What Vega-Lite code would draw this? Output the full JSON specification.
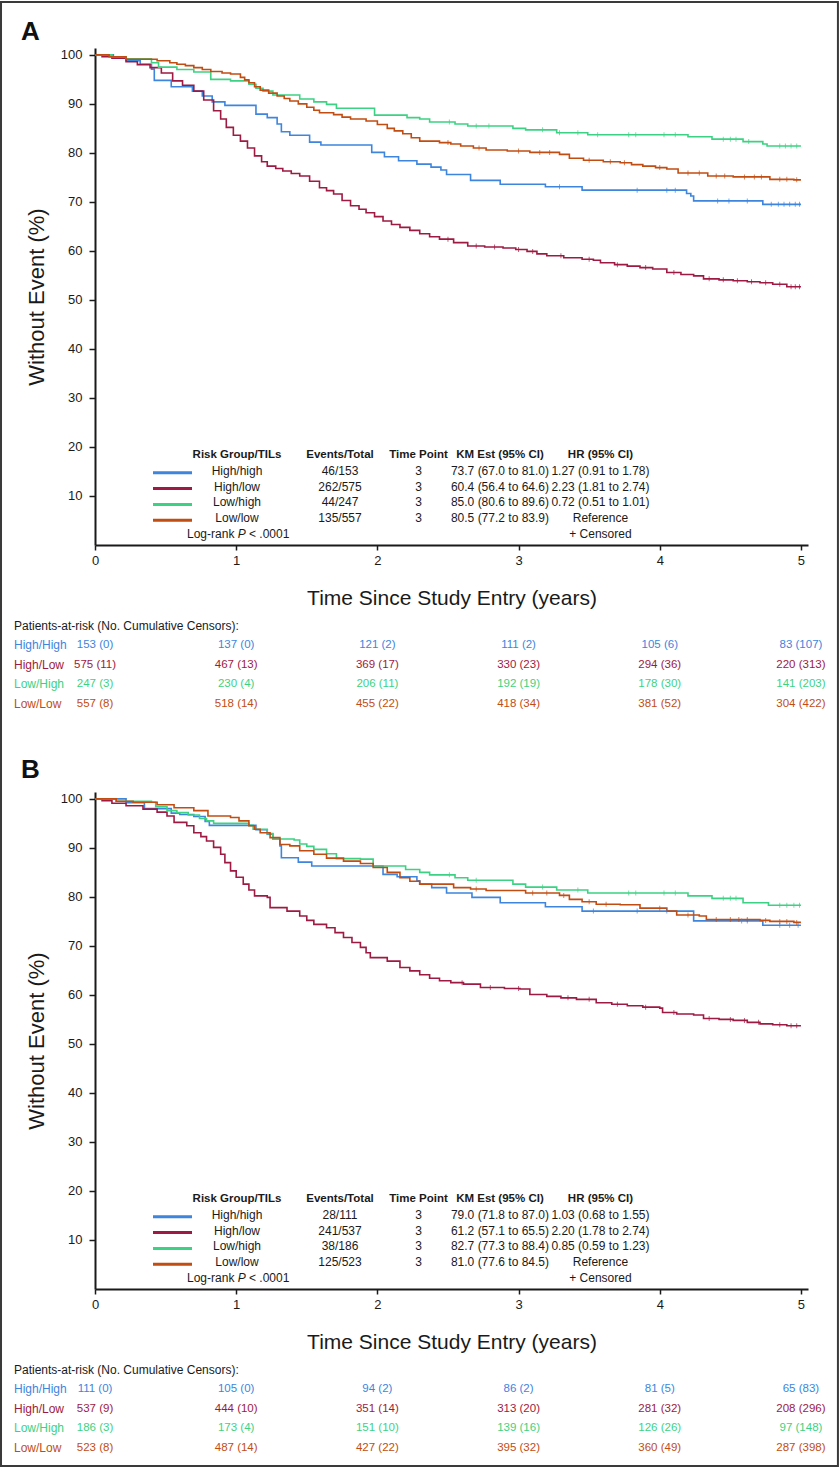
{
"$schema":"https://vega.github.io/schema/vega-lite/v6.json",
"padding":0,
"background":"white",
"bounds":"flush",
"spacing":0,
"config":{"view":{"stroke":null}},
"datasets":{
"kmA":[
{"group":"High/high","time":0,"surv":100},{"group":"High/high","time":0.13,"surv":99.5},{"group":"High/high","time":0.22,"surv":98.8},{"group":"High/high","time":0.32,"surv":98.1},{"group":"High/high","time":0.4,"surv":97.1},{"group":"High/high","time":0.42,"surv":94.8},{"group":"High/high","time":0.54,"surv":93.5},{"group":"High/high","time":0.69,"surv":92.6},{"group":"High/high","time":0.76,"surv":91.6},{"group":"High/high","time":0.83,"surv":90.4},{"group":"High/high","time":0.92,"surv":89.7},{"group":"High/high","time":1.14,"surv":87.9},{"group":"High/high","time":1.22,"surv":87.2},{"group":"High/high","time":1.29,"surv":85.9},{"group":"High/high","time":1.32,"surv":84.3},{"group":"High/high","time":1.38,"surv":83.6},{"group":"High/high","time":1.52,"surv":82.2},{"group":"High/high","time":1.6,"surv":81.6},{"group":"High/high","time":1.96,"surv":80.1},{"group":"High/high","time":2.05,"surv":79.2},{"group":"High/high","time":2.15,"surv":78.4},{"group":"High/high","time":2.28,"surv":77.7},{"group":"High/high","time":2.38,"surv":77.1},{"group":"High/high","time":2.45,"surv":76.5},{"group":"High/high","time":2.49,"surv":75.6},{"group":"High/high","time":2.66,"surv":74.4},{"group":"High/high","time":2.87,"surv":73.6},{"group":"High/high","time":3.19,"surv":73.1},{"group":"High/high","time":3.45,"surv":72.4},{"group":"High/high","time":4.19,"surv":71.7},{"group":"High/high","time":4.22,"surv":71.2},{"group":"High/high","time":4.24,"surv":70.2},{"group":"High/high","time":4.73,"surv":69.5},{"group":"High/high","time":5.0,"surv":69.5},
{"group":"High/low","time":0,"surv":100},{"group":"High/low","time":0.05,"surv":99.6},{"group":"High/low","time":0.12,"surv":99.3},{"group":"High/low","time":0.22,"surv":98.6},{"group":"High/low","time":0.3,"surv":98.0},{"group":"High/low","time":0.39,"surv":97.4},{"group":"High/low","time":0.47,"surv":96.3},{"group":"High/low","time":0.55,"surv":94.7},{"group":"High/low","time":0.62,"surv":93.8},{"group":"High/low","time":0.7,"surv":92.6},{"group":"High/low","time":0.77,"surv":90.8},{"group":"High/low","time":0.84,"surv":88.6},{"group":"High/low","time":0.89,"surv":86.9},{"group":"High/low","time":0.93,"surv":85.2},{"group":"High/low","time":0.98,"surv":83.6},{"group":"High/low","time":1.03,"surv":82.4},{"group":"High/low","time":1.08,"surv":81.0},{"group":"High/low","time":1.13,"surv":79.4},{"group":"High/low","time":1.18,"surv":78.2},{"group":"High/low","time":1.22,"surv":77.3},{"group":"High/low","time":1.28,"surv":76.8},{"group":"High/low","time":1.33,"surv":76.3},{"group":"High/low","time":1.39,"surv":75.8},{"group":"High/low","time":1.45,"surv":75.3},{"group":"High/low","time":1.52,"surv":74.2},{"group":"High/low","time":1.59,"surv":72.9},{"group":"High/low","time":1.64,"surv":72.3},{"group":"High/low","time":1.69,"surv":71.6},{"group":"High/low","time":1.75,"surv":70.3},{"group":"High/low","time":1.81,"surv":69.2},{"group":"High/low","time":1.87,"surv":68.5},{"group":"High/low","time":1.92,"surv":67.8},{"group":"High/low","time":1.98,"surv":67.0},{"group":"High/low","time":2.04,"surv":66.1},{"group":"High/low","time":2.1,"surv":65.4},{"group":"High/low","time":2.16,"surv":64.8},{"group":"High/low","time":2.23,"surv":64.2},{"group":"High/low","time":2.3,"surv":63.5},{"group":"High/low","time":2.37,"surv":62.9},{"group":"High/low","time":2.44,"surv":62.4},{"group":"High/low","time":2.54,"surv":61.7},{"group":"High/low","time":2.64,"surv":61.0},{"group":"High/low","time":2.76,"surv":60.8},{"group":"High/low","time":2.89,"surv":60.6},{"group":"High/low","time":2.98,"surv":60.3},{"group":"High/low","time":3.06,"surv":59.9},{"group":"High/low","time":3.13,"surv":59.4},{"group":"High/low","time":3.2,"surv":59.0},{"group":"High/low","time":3.32,"surv":58.6},{"group":"High/low","time":3.45,"surv":58.3},{"group":"High/low","time":3.53,"surv":58.1},{"group":"High/low","time":3.58,"surv":57.6},{"group":"High/low","time":3.68,"surv":57.2},{"group":"High/low","time":3.77,"surv":56.9},{"group":"High/low","time":3.86,"surv":56.6},{"group":"High/low","time":3.95,"surv":56.3},{"group":"High/low","time":4.05,"surv":55.6},{"group":"High/low","time":4.15,"surv":55.2},{"group":"High/low","time":4.24,"surv":54.9},{"group":"High/low","time":4.31,"surv":54.3},{"group":"High/low","time":4.42,"surv":54.1},{"group":"High/low","time":4.52,"surv":53.9},{"group":"High/low","time":4.62,"surv":53.7},{"group":"High/low","time":4.71,"surv":53.5},{"group":"High/low","time":4.8,"surv":53.2},{"group":"High/low","time":4.9,"surv":52.7},{"group":"High/low","time":5.0,"surv":52.7},
{"group":"Low/high","time":0,"surv":100},{"group":"Low/high","time":0.12,"surv":99.6},{"group":"Low/high","time":0.22,"surv":99.2},{"group":"Low/high","time":0.4,"surv":98.4},{"group":"Low/high","time":0.45,"surv":97.5},{"group":"Low/high","time":0.58,"surv":97.0},{"group":"Low/high","time":0.7,"surv":96.5},{"group":"Low/high","time":0.82,"surv":95.0},{"group":"Low/high","time":0.96,"surv":94.7},{"group":"Low/high","time":1.09,"surv":94.0},{"group":"Low/high","time":1.14,"surv":93.2},{"group":"Low/high","time":1.19,"surv":92.6},{"group":"Low/high","time":1.26,"surv":91.8},{"group":"Low/high","time":1.45,"surv":91.0},{"group":"Low/high","time":1.55,"surv":90.4},{"group":"Low/high","time":1.64,"surv":89.9},{"group":"Low/high","time":1.71,"surv":89.1},{"group":"Low/high","time":1.98,"surv":87.7},{"group":"Low/high","time":2.21,"surv":87.2},{"group":"Low/high","time":2.3,"surv":86.9},{"group":"Low/high","time":2.37,"surv":86.3},{"group":"Low/high","time":2.55,"surv":85.9},{"group":"Low/high","time":2.64,"surv":85.5},{"group":"Low/high","time":2.96,"surv":85.0},{"group":"Low/high","time":3.05,"surv":84.7},{"group":"Low/high","time":3.27,"surv":84.1},{"group":"Low/high","time":3.49,"surv":83.7},{"group":"Low/high","time":4.2,"surv":83.3},{"group":"Low/high","time":4.37,"surv":82.8},{"group":"Low/high","time":4.59,"surv":82.3},{"group":"Low/high","time":4.73,"surv":81.8},{"group":"Low/high","time":4.76,"surv":81.4},{"group":"Low/high","time":5.0,"surv":81.4},
{"group":"Low/low","time":0,"surv":100},{"group":"Low/low","time":0.1,"surv":99.6},{"group":"Low/low","time":0.22,"surv":99.1},{"group":"Low/low","time":0.44,"surv":98.8},{"group":"Low/low","time":0.53,"surv":98.4},{"group":"Low/low","time":0.58,"surv":98.1},{"group":"Low/low","time":0.64,"surv":97.8},{"group":"Low/low","time":0.7,"surv":97.4},{"group":"Low/low","time":0.76,"surv":97.0},{"group":"Low/low","time":0.82,"surv":96.6},{"group":"Low/low","time":0.9,"surv":96.3},{"group":"Low/low","time":0.96,"surv":96.1},{"group":"Low/low","time":1.03,"surv":95.4},{"group":"Low/low","time":1.06,"surv":94.9},{"group":"Low/low","time":1.09,"surv":94.3},{"group":"Low/low","time":1.13,"surv":93.5},{"group":"Low/low","time":1.17,"surv":92.8},{"group":"Low/low","time":1.23,"surv":92.2},{"group":"Low/low","time":1.29,"surv":91.6},{"group":"Low/low","time":1.34,"surv":91.1},{"group":"Low/low","time":1.38,"surv":90.6},{"group":"Low/low","time":1.44,"surv":90.0},{"group":"Low/low","time":1.5,"surv":89.3},{"group":"Low/low","time":1.55,"surv":88.7},{"group":"Low/low","time":1.59,"surv":88.2},{"group":"Low/low","time":1.69,"surv":87.8},{"group":"Low/low","time":1.75,"surv":87.3},{"group":"Low/low","time":1.81,"surv":86.9},{"group":"Low/low","time":1.92,"surv":86.5},{"group":"Low/low","time":2.0,"surv":85.8},{"group":"Low/low","time":2.07,"surv":85.0},{"group":"Low/low","time":2.12,"surv":84.5},{"group":"Low/low","time":2.18,"surv":83.9},{"group":"Low/low","time":2.24,"surv":83.1},{"group":"Low/low","time":2.3,"surv":82.4},{"group":"Low/low","time":2.44,"surv":82.1},{"group":"Low/low","time":2.52,"surv":81.8},{"group":"Low/low","time":2.59,"surv":81.4},{"group":"Low/low","time":2.68,"surv":81.0},{"group":"Low/low","time":2.77,"surv":80.6},{"group":"Low/low","time":2.92,"surv":80.4},{"group":"Low/low","time":3.08,"surv":80.1},{"group":"Low/low","time":3.29,"surv":79.7},{"group":"Low/low","time":3.36,"surv":78.9},{"group":"Low/low","time":3.46,"surv":78.5},{"group":"Low/low","time":3.6,"surv":78.2},{"group":"Low/low","time":3.72,"surv":78.0},{"group":"Low/low","time":3.8,"surv":77.6},{"group":"Low/low","time":3.88,"surv":77.3},{"group":"Low/low","time":3.97,"surv":77.0},{"group":"Low/low","time":4.05,"surv":76.7},{"group":"Low/low","time":4.13,"surv":75.9},{"group":"Low/low","time":4.34,"surv":75.3},{"group":"Low/low","time":4.52,"surv":75.1},{"group":"Low/low","time":4.78,"surv":74.6},{"group":"Low/low","time":4.95,"surv":74.5},{"group":"Low/low","time":5.0,"surv":74.5}
],
"censA":[
{"group":"High/high","time":3.29,"surv":73.1},{"group":"High/high","time":3.84,"surv":72.4},{"group":"High/high","time":4.05,"surv":72.4},{"group":"High/high","time":4.11,"surv":72.4},{"group":"High/high","time":4.41,"surv":70.2},{"group":"High/high","time":4.49,"surv":70.2},{"group":"High/high","time":4.62,"surv":70.2},{"group":"High/high","time":4.79,"surv":69.5},{"group":"High/high","time":4.84,"surv":69.5},{"group":"High/high","time":4.88,"surv":69.5},{"group":"High/high","time":4.92,"surv":69.5},{"group":"High/high","time":4.96,"surv":69.5},{"group":"High/high","time":4.99,"surv":69.5},
{"group":"High/low","time":2.5,"surv":62.4},{"group":"High/low","time":2.7,"surv":61.0},{"group":"High/low","time":2.83,"surv":60.8},{"group":"High/low","time":3.0,"surv":60.3},{"group":"High/low","time":3.1,"surv":59.9},{"group":"High/low","time":3.3,"surv":59.0},{"group":"High/low","time":3.5,"surv":58.3},{"group":"High/low","time":3.7,"surv":57.2},{"group":"High/low","time":3.9,"surv":56.6},{"group":"High/low","time":4.1,"surv":55.6},{"group":"High/low","time":4.35,"surv":54.3},{"group":"High/low","time":4.45,"surv":54.1},{"group":"High/low","time":4.55,"surv":53.9},{"group":"High/low","time":4.65,"surv":53.7},{"group":"High/low","time":4.75,"surv":53.5},{"group":"High/low","time":4.85,"surv":53.2},{"group":"High/low","time":4.93,"surv":52.7},{"group":"High/low","time":4.96,"surv":52.7},{"group":"High/low","time":4.99,"surv":52.7},
{"group":"Low/high","time":2.51,"surv":86.3},{"group":"Low/high","time":2.7,"surv":85.5},{"group":"Low/high","time":2.79,"surv":85.5},{"group":"Low/high","time":3.17,"surv":84.7},{"group":"Low/high","time":3.29,"surv":84.1},{"group":"Low/high","time":3.42,"surv":84.1},{"group":"Low/high","time":3.56,"surv":83.7},{"group":"Low/high","time":3.78,"surv":83.7},{"group":"Low/high","time":3.83,"surv":83.7},{"group":"Low/high","time":4.03,"surv":83.7},{"group":"Low/high","time":4.11,"surv":83.7},{"group":"Low/high","time":4.45,"surv":82.8},{"group":"Low/high","time":4.5,"surv":82.8},{"group":"Low/high","time":4.54,"surv":82.8},{"group":"Low/high","time":4.63,"surv":82.3},{"group":"Low/high","time":4.85,"surv":81.4},{"group":"Low/high","time":4.89,"surv":81.4},{"group":"Low/high","time":4.93,"surv":81.4},{"group":"Low/high","time":4.97,"surv":81.4},
{"group":"Low/low","time":2.5,"surv":82.1},{"group":"Low/low","time":2.72,"surv":81.0},{"group":"Low/low","time":3.0,"surv":80.4},{"group":"Low/low","time":3.15,"surv":80.1},{"group":"Low/low","time":3.22,"surv":80.1},{"group":"Low/low","time":3.5,"surv":78.5},{"group":"Low/low","time":3.65,"surv":78.2},{"group":"Low/low","time":3.75,"surv":78.0},{"group":"Low/low","time":4.0,"surv":77.0},{"group":"Low/low","time":4.2,"surv":75.9},{"group":"Low/low","time":4.28,"surv":75.9},{"group":"Low/low","time":4.4,"surv":75.3},{"group":"Low/low","time":4.46,"surv":75.3},{"group":"Low/low","time":4.6,"surv":75.1},{"group":"Low/low","time":4.67,"surv":75.1},{"group":"Low/low","time":4.72,"surv":75.1},{"group":"Low/low","time":4.85,"surv":74.6},{"group":"Low/low","time":4.9,"surv":74.6},{"group":"Low/low","time":4.97,"surv":74.5}
],
"kmB":[
{"group":"High/high","time":0,"surv":100},{"group":"High/high","time":0.22,"surv":99.2},{"group":"High/high","time":0.35,"surv":98.0},{"group":"High/high","time":0.54,"surv":97.1},{"group":"High/high","time":0.6,"surv":96.8},{"group":"High/high","time":0.7,"surv":96.4},{"group":"High/high","time":0.78,"surv":95.4},{"group":"High/high","time":0.81,"surv":94.6},{"group":"High/high","time":1.14,"surv":93.7},{"group":"High/high","time":1.22,"surv":92.8},{"group":"High/high","time":1.26,"surv":91.8},{"group":"High/high","time":1.31,"surv":90.4},{"group":"High/high","time":1.32,"surv":88.0},{"group":"High/high","time":1.44,"surv":87.1},{"group":"High/high","time":1.535,"surv":86.3},{"group":"High/high","time":2.04,"surv":84.6},{"group":"High/high","time":2.14,"surv":84.1},{"group":"High/high","time":2.28,"surv":83.3},{"group":"High/high","time":2.3,"surv":82.6},{"group":"High/high","time":2.385,"surv":81.9},{"group":"High/high","time":2.49,"surv":80.8},{"group":"High/high","time":2.67,"surv":79.9},{"group":"High/high","time":2.87,"surv":78.8},{"group":"High/high","time":3.19,"surv":78.0},{"group":"High/high","time":3.45,"surv":77.1},{"group":"High/high","time":4.24,"surv":75.1},{"group":"High/high","time":4.73,"surv":74.2},{"group":"High/high","time":5.0,"surv":74.2},
{"group":"High/low","time":0,"surv":100},{"group":"High/low","time":0.05,"surv":99.6},{"group":"High/low","time":0.12,"surv":99.1},{"group":"High/low","time":0.22,"surv":98.6},{"group":"High/low","time":0.34,"surv":97.9},{"group":"High/low","time":0.44,"surv":97.3},{"group":"High/low","time":0.51,"surv":96.5},{"group":"High/low","time":0.56,"surv":95.2},{"group":"High/low","time":0.65,"surv":94.5},{"group":"High/low","time":0.7,"surv":93.1},{"group":"High/low","time":0.75,"surv":92.3},{"group":"High/low","time":0.79,"surv":91.4},{"group":"High/low","time":0.84,"surv":90.1},{"group":"High/low","time":0.89,"surv":88.7},{"group":"High/low","time":0.92,"surv":87.0},{"group":"High/low","time":0.96,"surv":85.3},{"group":"High/low","time":1.0,"surv":84.0},{"group":"High/low","time":1.05,"surv":82.6},{"group":"High/low","time":1.09,"surv":81.4},{"group":"High/low","time":1.13,"surv":80.2},{"group":"High/low","time":1.22,"surv":79.9},{"group":"High/low","time":1.24,"surv":77.8},{"group":"High/low","time":1.36,"surv":77.1},{"group":"High/low","time":1.45,"surv":76.1},{"group":"High/low","time":1.5,"surv":75.2},{"group":"High/low","time":1.55,"surv":74.4},{"group":"High/low","time":1.64,"surv":73.7},{"group":"High/low","time":1.7,"surv":72.7},{"group":"High/low","time":1.76,"surv":71.7},{"group":"High/low","time":1.82,"surv":70.7},{"group":"High/low","time":1.88,"surv":69.7},{"group":"High/low","time":1.92,"surv":68.6},{"group":"High/low","time":1.95,"surv":67.6},{"group":"High/low","time":2.07,"surv":66.9},{"group":"High/low","time":2.16,"surv":65.6},{"group":"High/low","time":2.23,"surv":64.9},{"group":"High/low","time":2.3,"surv":64.1},{"group":"High/low","time":2.37,"surv":63.4},{"group":"High/low","time":2.44,"surv":62.9},{"group":"High/low","time":2.52,"surv":62.5},{"group":"High/low","time":2.61,"surv":62.2},{"group":"High/low","time":2.73,"surv":61.5},{"group":"High/low","time":2.9,"surv":61.3},{"group":"High/low","time":3.01,"surv":61.2},{"group":"High/low","time":3.08,"surv":60.1},{"group":"High/low","time":3.2,"surv":59.7},{"group":"High/low","time":3.3,"surv":59.4},{"group":"High/low","time":3.41,"surv":59.1},{"group":"High/low","time":3.55,"surv":58.4},{"group":"High/low","time":3.66,"surv":58.1},{"group":"High/low","time":3.77,"surv":57.8},{"group":"High/low","time":3.88,"surv":57.5},{"group":"High/low","time":4.0,"surv":57.3},{"group":"High/low","time":4.02,"surv":56.4},{"group":"High/low","time":4.12,"surv":56.1},{"group":"High/low","time":4.24,"surv":55.9},{"group":"High/low","time":4.31,"surv":55.2},{"group":"High/low","time":4.42,"surv":55.0},{"group":"High/low","time":4.52,"surv":54.8},{"group":"High/low","time":4.62,"surv":54.4},{"group":"High/low","time":4.71,"surv":54.1},{"group":"High/low","time":4.8,"surv":53.9},{"group":"High/low","time":4.9,"surv":53.7},{"group":"High/low","time":5.0,"surv":53.7},
{"group":"Low/high","time":0,"surv":100},{"group":"Low/high","time":0.15,"surv":99.5},{"group":"Low/high","time":0.4,"surv":99.3},{"group":"Low/high","time":0.43,"surv":98.4},{"group":"Low/high","time":0.51,"surv":97.6},{"group":"Low/high","time":0.58,"surv":97.2},{"group":"Low/high","time":0.66,"surv":96.7},{"group":"Low/high","time":0.74,"surv":96.0},{"group":"Low/high","time":0.79,"surv":95.5},{"group":"Low/high","time":0.84,"surv":95.0},{"group":"Low/high","time":1.09,"surv":94.6},{"group":"Low/high","time":1.12,"surv":93.8},{"group":"Low/high","time":1.22,"surv":92.9},{"group":"Low/high","time":1.26,"surv":91.8},{"group":"Low/high","time":1.41,"surv":91.6},{"group":"Low/high","time":1.45,"surv":90.8},{"group":"Low/high","time":1.5,"surv":90.3},{"group":"Low/high","time":1.55,"surv":89.7},{"group":"Low/high","time":1.64,"surv":88.8},{"group":"Low/high","time":1.71,"surv":87.8},{"group":"Low/high","time":1.88,"surv":87.7},{"group":"Low/high","time":1.97,"surv":86.3},{"group":"Low/high","time":2.2,"surv":85.6},{"group":"Low/high","time":2.3,"surv":85.0},{"group":"Low/high","time":2.37,"surv":84.5},{"group":"Low/high","time":2.55,"surv":83.9},{"group":"Low/high","time":2.64,"surv":83.4},{"group":"Low/high","time":2.96,"surv":82.6},{"group":"Low/high","time":3.05,"surv":82.0},{"group":"Low/high","time":3.27,"surv":81.4},{"group":"Low/high","time":3.49,"surv":80.8},{"group":"Low/high","time":4.2,"surv":80.2},{"group":"Low/high","time":4.37,"surv":79.7},{"group":"Low/high","time":4.59,"surv":78.8},{"group":"Low/high","time":4.77,"surv":78.3},{"group":"Low/high","time":5.0,"surv":78.3},
{"group":"Low/low","time":0,"surv":100},{"group":"Low/low","time":0.15,"surv":99.5},{"group":"Low/low","time":0.27,"surv":99.3},{"group":"Low/low","time":0.44,"surv":98.8},{"group":"Low/low","time":0.56,"surv":98.2},{"group":"Low/low","time":0.7,"surv":97.6},{"group":"Low/low","time":0.8,"surv":96.5},{"group":"Low/low","time":0.96,"surv":96.2},{"group":"Low/low","time":1.02,"surv":95.5},{"group":"Low/low","time":1.09,"surv":94.5},{"group":"Low/low","time":1.13,"surv":93.8},{"group":"Low/low","time":1.17,"surv":93.1},{"group":"Low/low","time":1.24,"surv":92.1},{"group":"Low/low","time":1.31,"surv":90.7},{"group":"Low/low","time":1.38,"surv":90.4},{"group":"Low/low","time":1.45,"surv":89.4},{"group":"Low/low","time":1.55,"surv":88.7},{"group":"Low/low","time":1.64,"surv":87.9},{"group":"Low/low","time":1.76,"surv":87.3},{"group":"Low/low","time":1.88,"surv":86.8},{"group":"Low/low","time":1.97,"surv":86.0},{"group":"Low/low","time":2.07,"surv":85.0},{"group":"Low/low","time":2.16,"surv":83.9},{"group":"Low/low","time":2.23,"surv":83.2},{"group":"Low/low","time":2.3,"surv":82.6},{"group":"Low/low","time":2.54,"surv":81.9},{"group":"Low/low","time":2.66,"surv":81.6},{"group":"Low/low","time":2.77,"surv":81.3},{"group":"Low/low","time":3.05,"surv":80.8},{"group":"Low/low","time":3.29,"surv":80.3},{"group":"Low/low","time":3.36,"surv":79.5},{"group":"Low/low","time":3.45,"surv":79.0},{"group":"Low/low","time":3.55,"surv":78.5},{"group":"Low/low","time":3.72,"surv":78.4},{"group":"Low/low","time":3.86,"surv":77.7},{"group":"Low/low","time":4.05,"surv":77.1},{"group":"Low/low","time":4.12,"surv":76.3},{"group":"Low/low","time":4.28,"surv":76.1},{"group":"Low/low","time":4.33,"surv":75.4},{"group":"Low/low","time":4.71,"surv":75.2},{"group":"Low/low","time":4.78,"surv":75.0},{"group":"Low/low","time":4.95,"surv":74.8},{"group":"Low/low","time":5.0,"surv":74.8}
],
"censB":[
{"group":"High/high","time":3.53,"surv":77.1},{"group":"High/high","time":3.84,"surv":77.1},{"group":"High/high","time":4.05,"surv":77.1},{"group":"High/high","time":4.58,"surv":75.1},{"group":"High/high","time":4.62,"surv":75.1},{"group":"High/high","time":4.85,"surv":74.2},{"group":"High/high","time":4.92,"surv":74.2},{"group":"High/high","time":4.98,"surv":74.2},
{"group":"High/low","time":2.6,"surv":62.5},{"group":"High/low","time":2.8,"surv":61.5},{"group":"High/low","time":3.0,"surv":61.3},{"group":"High/low","time":3.35,"surv":59.4},{"group":"High/low","time":3.5,"surv":59.1},{"group":"High/low","time":3.7,"surv":58.1},{"group":"High/low","time":3.9,"surv":57.5},{"group":"High/low","time":4.1,"surv":56.4},{"group":"High/low","time":4.35,"surv":55.2},{"group":"High/low","time":4.5,"surv":55.0},{"group":"High/low","time":4.6,"surv":54.8},{"group":"High/low","time":4.7,"surv":54.4},{"group":"High/low","time":4.85,"surv":53.9},{"group":"High/low","time":4.93,"surv":53.7},{"group":"High/low","time":4.97,"surv":53.7},
{"group":"Low/high","time":2.51,"surv":84.5},{"group":"Low/high","time":2.7,"surv":83.4},{"group":"Low/high","time":3.17,"surv":82.0},{"group":"Low/high","time":3.42,"surv":81.4},{"group":"Low/high","time":3.78,"surv":80.8},{"group":"Low/high","time":3.83,"surv":80.8},{"group":"Low/high","time":4.03,"surv":80.8},{"group":"Low/high","time":4.11,"surv":80.8},{"group":"Low/high","time":4.45,"surv":79.7},{"group":"Low/high","time":4.5,"surv":79.7},{"group":"Low/high","time":4.54,"surv":79.7},{"group":"Low/high","time":4.85,"surv":78.3},{"group":"Low/high","time":4.9,"surv":78.3},{"group":"Low/high","time":4.95,"surv":78.3},{"group":"Low/high","time":4.99,"surv":78.3},
{"group":"Low/low","time":2.7,"surv":81.6},{"group":"Low/low","time":3.1,"surv":80.8},{"group":"Low/low","time":3.2,"surv":80.8},{"group":"Low/low","time":3.32,"surv":80.3},{"group":"Low/low","time":3.5,"surv":79.0},{"group":"Low/low","time":3.62,"surv":78.5},{"group":"Low/low","time":4.0,"surv":77.7},{"group":"Low/low","time":4.2,"surv":76.3},{"group":"Low/low","time":4.4,"surv":75.4},{"group":"Low/low","time":4.5,"surv":75.4},{"group":"Low/low","time":4.56,"surv":75.4},{"group":"Low/low","time":4.62,"surv":75.4},{"group":"Low/low","time":4.75,"surv":75.2},{"group":"Low/low","time":4.85,"surv":75.0},{"group":"Low/low","time":4.9,"surv":75.0},{"group":"Low/low","time":4.97,"surv":74.8}
],
"legA":[
{"row":"header","group":"Risk Group/TILs","events":"Events/Total","timepoint":"Time Point","km":"KM Est (95% CI)","hr":"HR (95% CI)"},
{"row":"High/high","group":"High/high","events":"46/153","timepoint":"3","km":"73.7 (67.0 to 81.0)","hr":"1.27 (0.91 to 1.78)"},
{"row":"High/low","group":"High/low","events":"262/575","timepoint":"3","km":"60.4 (56.4 to 64.6)","hr":"2.23 (1.81 to 2.74)"},
{"row":"Low/high","group":"Low/high","events":"44/247","timepoint":"3","km":"85.0 (80.6 to 89.6)","hr":"0.72 (0.51 to 1.01)"},
{"row":"Low/low","group":"Low/low","events":"135/557","timepoint":"3","km":"80.5 (77.2 to 83.9)","hr":"Reference"},
{"row":"logrank","group":"Log-rank","p":"P","pval":"< .0001","events":"","timepoint":"","km":"","hr":"+ Censored"}
],
"legB":[
{"row":"header","group":"Risk Group/TILs","events":"Events/Total","timepoint":"Time Point","km":"KM Est (95% CI)","hr":"HR (95% CI)"},
{"row":"High/high","group":"High/high","events":"28/111","timepoint":"3","km":"79.0 (71.8 to 87.0)","hr":"1.03 (0.68 to 1.55)"},
{"row":"High/low","group":"High/low","events":"241/537","timepoint":"3","km":"61.2 (57.1 to 65.5)","hr":"2.20 (1.78 to 2.74)"},
{"row":"Low/high","group":"Low/high","events":"38/186","timepoint":"3","km":"82.7 (77.3 to 88.4)","hr":"0.85 (0.59 to 1.23)"},
{"row":"Low/low","group":"Low/low","events":"125/523","timepoint":"3","km":"81.0 (77.6 to 84.5)","hr":"Reference"},
{"row":"logrank","group":"Log-rank","p":"P","pval":"< .0001","events":"","timepoint":"","km":"","hr":"+ Censored"}
],
"riskA":[
{"group":"header","time":null,"label":"Patients-at-risk (No. Cumulative Censors):"},
{"group":"High/High","time":0,"atrisk":153,"censored":0,"label":"153 (0)"},{"group":"High/High","time":1,"atrisk":137,"censored":0,"label":"137 (0)"},{"group":"High/High","time":2,"atrisk":121,"censored":2,"label":"121 (2)"},{"group":"High/High","time":3,"atrisk":111,"censored":2,"label":"111 (2)"},{"group":"High/High","time":4,"atrisk":105,"censored":6,"label":"105 (6)"},{"group":"High/High","time":5,"atrisk":83,"censored":107,"label":"83 (107)"},
{"group":"High/Low","time":0,"atrisk":575,"censored":11,"label":"575 (11)"},{"group":"High/Low","time":1,"atrisk":467,"censored":13,"label":"467 (13)"},{"group":"High/Low","time":2,"atrisk":369,"censored":17,"label":"369 (17)"},{"group":"High/Low","time":3,"atrisk":330,"censored":23,"label":"330 (23)"},{"group":"High/Low","time":4,"atrisk":294,"censored":36,"label":"294 (36)"},{"group":"High/Low","time":5,"atrisk":220,"censored":313,"label":"220 (313)"},
{"group":"Low/High","time":0,"atrisk":247,"censored":3,"label":"247 (3)"},{"group":"Low/High","time":1,"atrisk":230,"censored":4,"label":"230 (4)"},{"group":"Low/High","time":2,"atrisk":206,"censored":11,"label":"206 (11)"},{"group":"Low/High","time":3,"atrisk":192,"censored":19,"label":"192 (19)"},{"group":"Low/High","time":4,"atrisk":178,"censored":30,"label":"178 (30)"},{"group":"Low/High","time":5,"atrisk":141,"censored":203,"label":"141 (203)"},
{"group":"Low/Low","time":0,"atrisk":557,"censored":8,"label":"557 (8)"},{"group":"Low/Low","time":1,"atrisk":518,"censored":14,"label":"518 (14)"},{"group":"Low/Low","time":2,"atrisk":455,"censored":22,"label":"455 (22)"},{"group":"Low/Low","time":3,"atrisk":418,"censored":34,"label":"418 (34)"},{"group":"Low/Low","time":4,"atrisk":381,"censored":52,"label":"381 (52)"},{"group":"Low/Low","time":5,"atrisk":304,"censored":422,"label":"304 (422)"}
],
"riskB":[
{"group":"header","time":null,"label":"Patients-at-risk (No. Cumulative Censors):"},
{"group":"High/High","time":0,"atrisk":111,"censored":0,"label":"111 (0)"},{"group":"High/High","time":1,"atrisk":105,"censored":0,"label":"105 (0)"},{"group":"High/High","time":2,"atrisk":94,"censored":2,"label":"94 (2)"},{"group":"High/High","time":3,"atrisk":86,"censored":2,"label":"86 (2)"},{"group":"High/High","time":4,"atrisk":81,"censored":5,"label":"81 (5)"},{"group":"High/High","time":5,"atrisk":65,"censored":83,"label":"65 (83)"},
{"group":"High/Low","time":0,"atrisk":537,"censored":9,"label":"537 (9)"},{"group":"High/Low","time":1,"atrisk":444,"censored":10,"label":"444 (10)"},{"group":"High/Low","time":2,"atrisk":351,"censored":14,"label":"351 (14)"},{"group":"High/Low","time":3,"atrisk":313,"censored":20,"label":"313 (20)"},{"group":"High/Low","time":4,"atrisk":281,"censored":32,"label":"281 (32)"},{"group":"High/Low","time":5,"atrisk":208,"censored":296,"label":"208 (296)"},
{"group":"Low/High","time":0,"atrisk":186,"censored":3,"label":"186 (3)"},{"group":"Low/High","time":1,"atrisk":173,"censored":4,"label":"173 (4)"},{"group":"Low/High","time":2,"atrisk":151,"censored":10,"label":"151 (10)"},{"group":"Low/High","time":3,"atrisk":139,"censored":16,"label":"139 (16)"},{"group":"Low/High","time":4,"atrisk":126,"censored":26,"label":"126 (26)"},{"group":"Low/High","time":5,"atrisk":97,"censored":148,"label":"97 (148)"},
{"group":"Low/Low","time":0,"atrisk":523,"censored":8,"label":"523 (8)"},{"group":"Low/Low","time":1,"atrisk":487,"censored":14,"label":"487 (14)"},{"group":"Low/Low","time":2,"atrisk":427,"censored":22,"label":"427 (22)"},{"group":"Low/Low","time":3,"atrisk":395,"censored":32,"label":"395 (32)"},{"group":"Low/Low","time":4,"atrisk":360,"censored":49,"label":"360 (49)"},{"group":"Low/Low","time":5,"atrisk":287,"censored":398,"label":"287 (398)"}
]
},
"vconcat":[
{
"width":713,"height":497,
"resolve":{"scale":{"y":"independent"}},
"layer":[
{"layer":[
{"data":{"values":[{}]},"mark":{"type":"rect","filled":false,"stroke":"#3a3a3a","strokeWidth":2},
"encoding":{"x":{"datum":-0.6657,"type":"quantitative"},"x2":{"datum":5.262},"y":{"datum":110.79,"type":"quantitative"},"y2":{"datum":-187.93}}},
{"data":{"values":[{"panel":"A"}]},"mark":{"type":"text","align":"left","baseline":"alphabetic","font":"Liberation Sans","fontSize":26,"fontWeight":"bold","color":"#111111"},
"encoding":{"x":{"datum":-0.524,"type":"quantitative"},"y":{"datum":103.03,"type":"quantitative"},"text":{"field":"panel"}}},
{"data":{"name":"kmA"},"mark":{"type":"line","interpolate":"step-after","strokeWidth":1.6},
"encoding":{
"x":{"field":"time","type":"quantitative","scale":{"domain":[0,5.05],"nice":false,"zero":false},"axis":{"title":"Time Since Study Entry (years)","values":[0,1,2,3,4,5],"format":"d","grid":false,"domainColor":"#1a1a1a","domainWidth":2,"tickColor":"#1a1a1a","tickWidth":1.5,"tickSize":5,"labelFont":"Liberation Sans","labelFontSize":13,"labelColor":"#1a1a1a","labelPadding":4,"labelFlush":false,"titleFont":"Liberation Sans","titleFontSize":21,"titleFontWeight":"normal","titleColor":"#1a1a1a","titlePadding":20}},
"y":{"field":"surv","type":"quantitative","scale":{"domain":[0,101.4],"nice":false,"zero":false},"axis":{"title":"Without Event (%)","values":[10,20,30,40,50,60,70,80,90,100],"grid":false,"domainColor":"#1a1a1a","domainWidth":2,"tickColor":"#1a1a1a","tickWidth":1.5,"tickSize":6,"labelFont":"Liberation Sans","labelFontSize":13,"labelColor":"#1a1a1a","labelPadding":7,"titleFont":"Liberation Sans","titleFontSize":22,"titleFontWeight":"normal","titleColor":"#1a1a1a","titlePadding":12}},
"color":{"field":"group","type":"nominal","scale":{"domain":["High/high","High/low","Low/high","Low/low"],"range":["#3d85dd","#9e1a42","#3dd283","#c24d12"]},"legend":null}
}},
{"data":{"name":"censA"},"mark":{"type":"tick","orient":"vertical","size":5,"thickness":1},
"encoding":{"x":{"field":"time","type":"quantitative"},"y":{"field":"surv","type":"quantitative"},"color":{"field":"group","type":"nominal","scale":{"domain":["High/high","High/low","Low/high","Low/low"],"range":["#3d85dd","#9e1a42","#3dd283","#c24d12"]},"legend":null}}}
]},
{"data":{"name":"legA"},
"encoding":{"y":{"field":"row","type":"nominal","scale":{"type":"point","domain":["header","High/high","High/low","Low/high","Low/low","logrank"],"range":[407,486],"padding":0},"axis":null}},
"layer":[
{"transform":[{"filter":"datum.row !== 'header' && datum.row !== 'logrank'"}],"mark":{"type":"rule","strokeWidth":3,"yOffset":2},
"encoding":{"x":{"datum":0.4108,"type":"quantitative"},"x2":{"datum":0.687},"color":{"field":"row","type":"nominal","scale":{"domain":["High/high","High/low","Low/high","Low/low"],"range":["#3d85dd","#9e1a42","#3dd283","#c24d12"]},"legend":null}}},
{"transform":[{"filter":"datum.row === 'header'"}],"mark":{"type":"text","font":"Liberation Sans","fontSize":11.5,"fontWeight":"bold","color":"#1a1a1a","baseline":"middle","align":"center"},"encoding":{"x":{"datum":1.0057,"type":"quantitative"},"text":{"field":"group"}}},
{"transform":[{"filter":"datum.row === 'header'"}],"mark":{"type":"text","font":"Liberation Sans","fontSize":11.5,"fontWeight":"bold","color":"#1a1a1a","baseline":"middle","align":"center"},"encoding":{"x":{"datum":1.7351,"type":"quantitative"},"text":{"field":"events"}}},
{"transform":[{"filter":"datum.row === 'header'"}],"mark":{"type":"text","font":"Liberation Sans","fontSize":11.5,"fontWeight":"bold","color":"#1a1a1a","baseline":"middle","align":"center"},"encoding":{"x":{"datum":2.2911,"type":"quantitative"},"text":{"field":"timepoint"}}},
{"transform":[{"filter":"datum.row === 'header'"}],"mark":{"type":"text","font":"Liberation Sans","fontSize":11.5,"fontWeight":"bold","color":"#1a1a1a","baseline":"middle","align":"center"},"encoding":{"x":{"datum":2.8683,"type":"quantitative"},"text":{"field":"km"}}},
{"transform":[{"filter":"datum.row === 'header'"}],"mark":{"type":"text","font":"Liberation Sans","fontSize":11.5,"fontWeight":"bold","color":"#1a1a1a","baseline":"middle","align":"center"},"encoding":{"x":{"datum":3.58,"type":"quantitative"},"text":{"field":"hr"}}},
{"transform":[{"filter":"datum.row !== 'header' && datum.row !== 'logrank'"}],"mark":{"type":"text","font":"Liberation Sans","fontSize":12,"color":"#1a1a1a","baseline":"middle","align":"center"},"encoding":{"x":{"datum":1.0057,"type":"quantitative"},"text":{"field":"group"}}},
{"transform":[{"filter":"datum.row === 'logrank'"}],"mark":{"type":"text","font":"Liberation Sans","fontSize":12,"color":"#1a1a1a","baseline":"middle","align":"right"},"encoding":{"x":{"datum":0.9873,"type":"quantitative"},"text":{"field":"group"}}},
{"transform":[{"filter":"datum.row === 'logrank'"}],"mark":{"type":"text","font":"Liberation Sans","fontSize":12,"fontStyle":"italic","color":"#1a1a1a","baseline":"middle","align":"left"},"encoding":{"x":{"datum":1.0106,"type":"quantitative"},"text":{"field":"p"}}},
{"transform":[{"filter":"datum.row === 'logrank'"}],"mark":{"type":"text","font":"Liberation Sans","fontSize":12,"color":"#1a1a1a","baseline":"middle","align":"left"},"encoding":{"x":{"datum":1.0906,"type":"quantitative"},"text":{"field":"pval"}}},
{"transform":[{"filter":"datum.row !== 'header'"}],"mark":{"type":"text","font":"Liberation Sans","fontSize":12,"color":"#1a1a1a","baseline":"middle","align":"center"},"encoding":{"x":{"datum":1.7351,"type":"quantitative"},"text":{"field":"events"}}},
{"transform":[{"filter":"datum.row !== 'header'"}],"mark":{"type":"text","font":"Liberation Sans","fontSize":12,"color":"#1a1a1a","baseline":"middle","align":"center"},"encoding":{"x":{"datum":2.2911,"type":"quantitative"},"text":{"field":"timepoint"}}},
{"transform":[{"filter":"datum.row !== 'header'"}],"mark":{"type":"text","font":"Liberation Sans","fontSize":12,"color":"#1a1a1a","baseline":"middle","align":"center"},"encoding":{"x":{"datum":2.8683,"type":"quantitative"},"text":{"field":"km"}}},
{"transform":[{"filter":"datum.row !== 'header'"}],"mark":{"type":"text","font":"Liberation Sans","fontSize":12,"color":"#1a1a1a","baseline":"middle","align":"center"},"encoding":{"x":{"datum":3.58,"type":"quantitative"},"text":{"field":"hr"}}}
]}
]
},
{
"width":713,"height":247,
"data":{"name":"riskA"},
"encoding":{"y":{"field":"group","type":"nominal","scale":{"type":"point","domain":["header","High/High","High/Low","Low/High","Low/Low"],"range":[81,158.5],"padding":0},"axis":null}},
"layer":[
{"transform":[{"filter":"datum.group === 'header'"}],"mark":{"type":"text","align":"left","baseline":"middle","font":"Liberation Sans","fontSize":12,"color":"#1a1a1a"},
"encoding":{"x":{"datum":-0.5737,"type":"quantitative","scale":{"domain":[0,5.05],"nice":false,"zero":false},"axis":null},"text":{"field":"label"}}},
{"transform":[{"filter":"datum.group !== 'header' && datum.time === 0"}],"mark":{"type":"text","align":"left","baseline":"middle","font":"Liberation Sans","fontSize":12},
"encoding":{"x":{"datum":-0.5737,"type":"quantitative","scale":{"domain":[0,5.05],"nice":false,"zero":false},"axis":null},"text":{"field":"group"},"color":{"field":"group","type":"nominal","scale":{"domain":["High/High","High/Low","Low/High","Low/Low"],"range":["#3d85dd","#9e1a42","#3dd283","#c24d12"]},"legend":null}}},
{"transform":[{"filter":"datum.group !== 'header'"}],"mark":{"type":"text","align":"center","baseline":"middle","font":"Liberation Sans","fontSize":11.5},
"encoding":{"x":{"field":"time","type":"quantitative","scale":{"domain":[0,5.05],"nice":false,"zero":false},"axis":null},"text":{"field":"label"},"color":{"field":"group","type":"nominal","scale":{"domain":["High/High","High/Low","Low/High","Low/Low"],"range":["#3d85dd","#9e1a42","#3dd283","#c24d12"]},"legend":null}}}
]
},
{
"width":713,"height":497,
"resolve":{"scale":{"y":"independent"}},
"layer":[
{"layer":[
{"data":{"values":[{"panel":"B"}]},"mark":{"type":"text","align":"left","baseline":"alphabetic","font":"Liberation Sans","fontSize":26,"fontWeight":"bold","color":"#111111"},
"encoding":{"x":{"datum":-0.524,"type":"quantitative"},"y":{"datum":104.26,"type":"quantitative"},"text":{"field":"panel"}}},
{"data":{"name":"kmB"},"mark":{"type":"line","interpolate":"step-after","strokeWidth":1.6},
"encoding":{
"x":{"field":"time","type":"quantitative","scale":{"domain":[0,5.05],"nice":false,"zero":false},"axis":{"title":"Time Since Study Entry (years)","values":[0,1,2,3,4,5],"format":"d","grid":false,"domainColor":"#1a1a1a","domainWidth":2,"tickColor":"#1a1a1a","tickWidth":1.5,"tickSize":5,"labelFont":"Liberation Sans","labelFontSize":13,"labelColor":"#1a1a1a","labelPadding":4,"labelFlush":false,"titleFont":"Liberation Sans","titleFontSize":21,"titleFontWeight":"normal","titleColor":"#1a1a1a","titlePadding":20}},
"y":{"field":"surv","type":"quantitative","scale":{"domain":[0,101.4],"nice":false,"zero":false},"axis":{"title":"Without Event (%)","values":[10,20,30,40,50,60,70,80,90,100],"grid":false,"domainColor":"#1a1a1a","domainWidth":2,"tickColor":"#1a1a1a","tickWidth":1.5,"tickSize":6,"labelFont":"Liberation Sans","labelFontSize":13,"labelColor":"#1a1a1a","labelPadding":7,"titleFont":"Liberation Sans","titleFontSize":22,"titleFontWeight":"normal","titleColor":"#1a1a1a","titlePadding":12}},
"color":{"field":"group","type":"nominal","scale":{"domain":["High/high","High/low","Low/high","Low/low"],"range":["#3d85dd","#9e1a42","#3dd283","#c24d12"]},"legend":null}
}},
{"data":{"name":"censB"},"mark":{"type":"tick","orient":"vertical","size":5,"thickness":1},
"encoding":{"x":{"field":"time","type":"quantitative"},"y":{"field":"surv","type":"quantitative"},"color":{"field":"group","type":"nominal","scale":{"domain":["High/high","High/low","Low/high","Low/low"],"range":["#3d85dd","#9e1a42","#3dd283","#c24d12"]},"legend":null}}}
]},
{"data":{"name":"legB"},
"encoding":{"y":{"field":"row","type":"nominal","scale":{"type":"point","domain":["header","High/high","High/low","Low/high","Low/low","logrank"],"range":[407,486],"padding":0},"axis":null}},
"layer":[
{"transform":[{"filter":"datum.row !== 'header' && datum.row !== 'logrank'"}],"mark":{"type":"rule","strokeWidth":3,"yOffset":2},
"encoding":{"x":{"datum":0.4108,"type":"quantitative"},"x2":{"datum":0.687},"color":{"field":"row","type":"nominal","scale":{"domain":["High/high","High/low","Low/high","Low/low"],"range":["#3d85dd","#9e1a42","#3dd283","#c24d12"]},"legend":null}}},
{"transform":[{"filter":"datum.row === 'header'"}],"mark":{"type":"text","font":"Liberation Sans","fontSize":11.5,"fontWeight":"bold","color":"#1a1a1a","baseline":"middle","align":"center"},"encoding":{"x":{"datum":1.0057,"type":"quantitative"},"text":{"field":"group"}}},
{"transform":[{"filter":"datum.row === 'header'"}],"mark":{"type":"text","font":"Liberation Sans","fontSize":11.5,"fontWeight":"bold","color":"#1a1a1a","baseline":"middle","align":"center"},"encoding":{"x":{"datum":1.7351,"type":"quantitative"},"text":{"field":"events"}}},
{"transform":[{"filter":"datum.row === 'header'"}],"mark":{"type":"text","font":"Liberation Sans","fontSize":11.5,"fontWeight":"bold","color":"#1a1a1a","baseline":"middle","align":"center"},"encoding":{"x":{"datum":2.2911,"type":"quantitative"},"text":{"field":"timepoint"}}},
{"transform":[{"filter":"datum.row === 'header'"}],"mark":{"type":"text","font":"Liberation Sans","fontSize":11.5,"fontWeight":"bold","color":"#1a1a1a","baseline":"middle","align":"center"},"encoding":{"x":{"datum":2.8683,"type":"quantitative"},"text":{"field":"km"}}},
{"transform":[{"filter":"datum.row === 'header'"}],"mark":{"type":"text","font":"Liberation Sans","fontSize":11.5,"fontWeight":"bold","color":"#1a1a1a","baseline":"middle","align":"center"},"encoding":{"x":{"datum":3.58,"type":"quantitative"},"text":{"field":"hr"}}},
{"transform":[{"filter":"datum.row !== 'header' && datum.row !== 'logrank'"}],"mark":{"type":"text","font":"Liberation Sans","fontSize":12,"color":"#1a1a1a","baseline":"middle","align":"center"},"encoding":{"x":{"datum":1.0057,"type":"quantitative"},"text":{"field":"group"}}},
{"transform":[{"filter":"datum.row === 'logrank'"}],"mark":{"type":"text","font":"Liberation Sans","fontSize":12,"color":"#1a1a1a","baseline":"middle","align":"right"},"encoding":{"x":{"datum":0.9873,"type":"quantitative"},"text":{"field":"group"}}},
{"transform":[{"filter":"datum.row === 'logrank'"}],"mark":{"type":"text","font":"Liberation Sans","fontSize":12,"fontStyle":"italic","color":"#1a1a1a","baseline":"middle","align":"left"},"encoding":{"x":{"datum":1.0106,"type":"quantitative"},"text":{"field":"p"}}},
{"transform":[{"filter":"datum.row === 'logrank'"}],"mark":{"type":"text","font":"Liberation Sans","fontSize":12,"color":"#1a1a1a","baseline":"middle","align":"left"},"encoding":{"x":{"datum":1.0906,"type":"quantitative"},"text":{"field":"pval"}}},
{"transform":[{"filter":"datum.row !== 'header'"}],"mark":{"type":"text","font":"Liberation Sans","fontSize":12,"color":"#1a1a1a","baseline":"middle","align":"center"},"encoding":{"x":{"datum":1.7351,"type":"quantitative"},"text":{"field":"events"}}},
{"transform":[{"filter":"datum.row !== 'header'"}],"mark":{"type":"text","font":"Liberation Sans","fontSize":12,"color":"#1a1a1a","baseline":"middle","align":"center"},"encoding":{"x":{"datum":2.2911,"type":"quantitative"},"text":{"field":"timepoint"}}},
{"transform":[{"filter":"datum.row !== 'header'"}],"mark":{"type":"text","font":"Liberation Sans","fontSize":12,"color":"#1a1a1a","baseline":"middle","align":"center"},"encoding":{"x":{"datum":2.8683,"type":"quantitative"},"text":{"field":"km"}}},
{"transform":[{"filter":"datum.row !== 'header'"}],"mark":{"type":"text","font":"Liberation Sans","fontSize":12,"color":"#1a1a1a","baseline":"middle","align":"center"},"encoding":{"x":{"datum":3.58,"type":"quantitative"},"text":{"field":"hr"}}}
]}
]
},
{
"width":713,"height":170,
"data":{"name":"riskB"},
"encoding":{"y":{"field":"group","type":"nominal","scale":{"type":"point","domain":["header","High/High","High/Low","Low/High","Low/Low"],"range":[81,158.5],"padding":0},"axis":null}},
"layer":[
{"transform":[{"filter":"datum.group === 'header'"}],"mark":{"type":"text","align":"left","baseline":"middle","font":"Liberation Sans","fontSize":12,"color":"#1a1a1a"},
"encoding":{"x":{"datum":-0.5737,"type":"quantitative","scale":{"domain":[0,5.05],"nice":false,"zero":false},"axis":null},"text":{"field":"label"}}},
{"transform":[{"filter":"datum.group !== 'header' && datum.time === 0"}],"mark":{"type":"text","align":"left","baseline":"middle","font":"Liberation Sans","fontSize":12},
"encoding":{"x":{"datum":-0.5737,"type":"quantitative","scale":{"domain":[0,5.05],"nice":false,"zero":false},"axis":null},"text":{"field":"group"},"color":{"field":"group","type":"nominal","scale":{"domain":["High/High","High/Low","Low/High","Low/Low"],"range":["#3d85dd","#9e1a42","#3dd283","#c24d12"]},"legend":null}}},
{"transform":[{"filter":"datum.group !== 'header'"}],"mark":{"type":"text","align":"center","baseline":"middle","font":"Liberation Sans","fontSize":11.5},
"encoding":{"x":{"field":"time","type":"quantitative","scale":{"domain":[0,5.05],"nice":false,"zero":false},"axis":null},"text":{"field":"label"},"color":{"field":"group","type":"nominal","scale":{"domain":["High/High","High/Low","Low/High","Low/Low"],"range":["#3d85dd","#9e1a42","#3dd283","#c24d12"]},"legend":null}}}
]
}
]
}
